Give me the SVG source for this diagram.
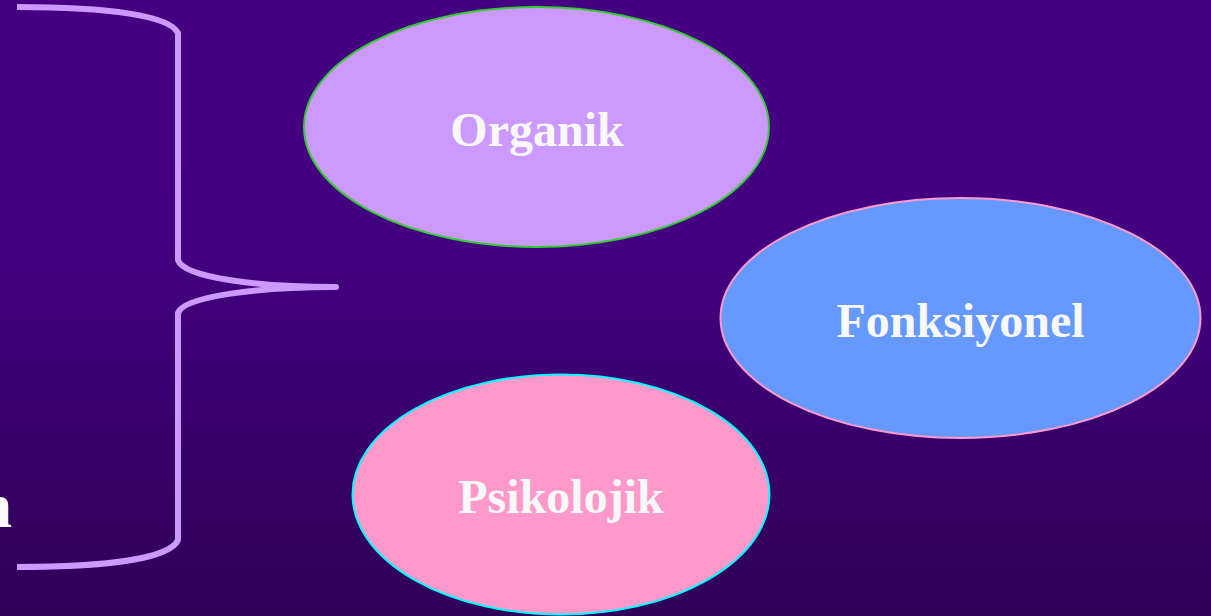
<svg xmlns="http://www.w3.org/2000/svg" width="1211" height="616" viewBox="0 0 1211 616">
  <defs>
    <linearGradient id="bg" x1="0" y1="0" x2="0" y2="1">
      <stop offset="0" stop-color="#450082"/>
      <stop offset="0.4" stop-color="#430080"/>
      <stop offset="1" stop-color="#2f0058"/>
    </linearGradient>
  </defs>
  <style>
    .lbl { font-family: "Liberation Serif", "Times New Roman", serif; font-weight: bold; font-size: 48px; fill: #f8f8f8; text-anchor: middle; }
    .brace { fill: none; stroke: #cc99ff; stroke-width: 6; }
  </style>
  <rect x="0" y="0" width="1211" height="616" fill="url(#bg)"/>
  <text x="12" y="527" class="lbl" style="text-anchor:end;font-size:64px">n</text>
  <g id="connectors">
    <path class="brace" stroke-linecap="butt" d="M17,7 C110,7 170,16 178,33 L178,260 C184,278 260,287 336,287"/>
    <path class="brace" stroke-linecap="butt" d="M336,287 C260,287 184,296 178,313 L178,540 C170,558 110,567 17,567"/>
    <circle cx="336" cy="287" r="3" fill="#cc99ff"/>
  </g>
  <g id="organik">
    <ellipse cx="536.5" cy="127" rx="232.5" ry="120" fill="#cc99ff" stroke="#33cc33" stroke-width="2"/>
    <text x="537" y="146" class="lbl">Organik</text>
  </g>
  <g id="fonksiyonel">
    <ellipse cx="960.5" cy="318" rx="240" ry="120" fill="#6699ff" stroke="#ff99cc" stroke-width="2"/>
    <text x="960.5" y="337" class="lbl">Fonksiyonel</text>
  </g>
  <g id="psikolojik">
    <ellipse cx="561" cy="494.5" rx="208.5" ry="120" fill="#ff99cc" stroke="#00ffff" stroke-width="2"/>
    <text x="561" y="513" class="lbl">Psikolojik</text>
  </g>
</svg>
